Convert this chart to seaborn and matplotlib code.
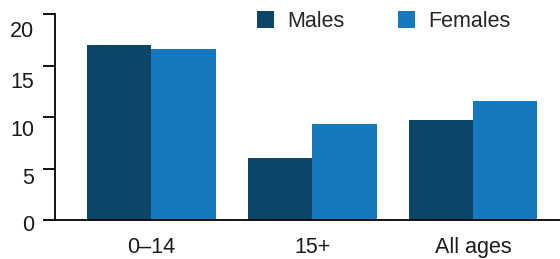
import matplotlib
matplotlib.use("Agg")
import matplotlib.pyplot as plt
import matplotlib.transforms as mtransforms
import seaborn as sns
import pandas as pd

categories = ["0–14", "15+", "All ages"]
males = [17.0, 6.0, 9.7]
females = [16.6, 9.3, 11.6]
series_names = ["Males", "Females"]
colors = ["#0B4669", "#1479BF"]
yticks = [0, 5, 10, 15, 20]
# downward label shifts (px) seen in the reference for each y tick label
ylabel_shift_px = [3, 8, 11, 14, 15]

df = pd.DataFrame({
    "age": categories * 2,
    "value": males + females,
    "sex": [series_names[0]] * 3 + [series_names[1]] * 3,
})

sns.set_style("white")
plt.rcParams["font.family"] = ["Liberation Sans", "DejaVu Sans"]

fig = plt.figure(figsize=(5.6, 2.59), dpi=100)
ax = fig.add_axes([55 / 560, 1 - 220 / 259, 1 - 55 / 560, (220 - 14) / 259])

sns.barplot(data=df, x="age", y="value", hue="sex", palette=colors,
            width=0.8, saturation=1, ax=ax, legend=True, linewidth=0,
            edgecolor="none")

ax.set_ylim(0, 20)
ax.set_xlim(-0.6, 2.54)
ax.set_yticks(yticks)
ax.set_xlabel("")
ax.set_ylabel("")
for s in ["top", "right"]:
    ax.spines[s].set_visible(False)
for s in ["left", "bottom"]:
    ax.spines[s].set_color("black")
    ax.spines[s].set_linewidth(1.3)
ax.tick_params(axis="y", left=True, length=8.6, width=1.3, pad=6.5,
               labelsize=15.5, color="black", labelcolor="#1a1a1a")
ax.tick_params(axis="x", bottom=False, length=0, pad=12.5,
               labelsize=15.5, labelcolor="#1a1a1a")

for lab, sh in zip(ax.get_yticklabels(), ylabel_shift_px):
    off = mtransforms.ScaledTranslation(0, -sh / 100, fig.dpi_scale_trans)
    lab.set_transform(lab.get_transform() + off)

handles, labels = ax.get_legend_handles_labels()
ax.legend(handles, labels, ncol=2, frameon=False, fontsize=15.5,
          loc="upper left", bbox_to_anchor=(257 / 560, 1 - 11 / 259),
          bbox_transform=fig.transFigure, borderpad=0, borderaxespad=0,
          handlelength=0.77, handleheight=0.77, handletextpad=0.62,
          columnspacing=2.5)

fig.savefig("out.png", dpi=100)
